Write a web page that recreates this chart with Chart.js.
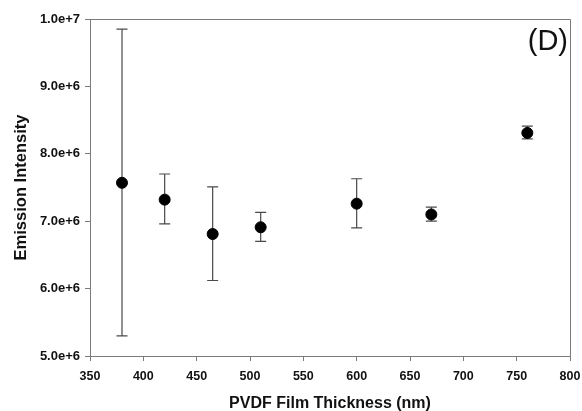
<!DOCTYPE html>
<html>
<head>
<meta charset="utf-8">
<script src="https://cdn.jsdelivr.net/npm/chart.js@4/dist/chart.umd.min.js"></script>
<style>
  html, body { margin: 0; padding: 0; background: #fff; }
  #wrap { width: 582px; height: 411px; }
</style>
</head>
<body>
<div id="wrap"><canvas id="c"></canvas></div>
<script>
// film thickness (nm) and emission intensity, with error bar ends
const thickness = [380, 420, 465, 510, 600, 670, 760];
const intensity = [7.57e6, 7.32e6, 6.81e6, 6.91e6, 7.26e6, 7.10e6, 8.31e6];
const errHigh   = [9.85e6, 7.70e6, 7.51e6, 7.13e6, 7.63e6, 7.21e6, 8.41e6];
const errLow    = [5.30e6, 6.96e6, 6.12e6, 6.70e6, 6.90e6, 7.00e6, 8.22e6];

const axisColor = '#7a7a7a';
const fam = "'Liberation Sans', Arial, sans-serif";

// vertical error bars with caps, drawn through the chart scales
const errorBars = {
    id: 'errorBars',
    beforeDatasetsDraw(chart) {
        const { ctx, scales: { x, y } } = chart;
        ctx.save();
        ctx.strokeStyle = '#4a4a4a';
        ctx.lineWidth = 1.2;
        thickness.forEach((t, i) => {
            const px = x.getPixelForValue(t);
            const top = y.getPixelForValue(errHigh[i]);
            const bot = y.getPixelForValue(errLow[i]);
            ctx.beginPath();
            ctx.moveTo(px, top); ctx.lineTo(px, bot);
            ctx.moveTo(px - 5.5, top); ctx.lineTo(px + 5.5, top);
            ctx.moveTo(px - 5.5, bot); ctx.lineTo(px + 5.5, bot);
            ctx.stroke();
        });
        ctx.restore();
    }
};

// frame on top/right and the panel letter
const frame = {
    id: 'frame',
    afterDraw(chart) {
        const { ctx, chartArea: a } = chart;
        ctx.save();
        ctx.strokeStyle = axisColor;
        ctx.lineWidth = 1;
        ctx.beginPath();
        ctx.moveTo(a.left, a.top + 0.5);
        ctx.lineTo(a.right + 0.5, a.top + 0.5);
        ctx.lineTo(a.right + 0.5, a.bottom);
        ctx.stroke();
        ctx.fillStyle = '#111';
        ctx.font = '29px ' + fam;
        ctx.textAlign = 'right';
        ctx.textBaseline = 'top';
        ctx.fillText('(D)', a.right - 2, a.top + 8);
        ctx.restore();
    }
};

new Chart(document.getElementById('c'), {
    type: 'scatter',
    data: {
        datasets: [{
            data: thickness.map((t, i) => ({ x: t, y: intensity[i] })),
            backgroundColor: '#000',
            borderColor: '#000',
            pointRadius: 5.5,
            pointHoverRadius: 5.5
        }]
    },
    options: {
        responsive: true,
        maintainAspectRatio: false,
        animation: false,
        layout: { padding: { left: 0, top: 19, right: 12, bottom: 0 } },
        plugins: { legend: { display: false }, tooltip: { enabled: false } },
        scales: {
            x: {
                type: 'linear',
                min: 350, max: 800,
                afterFit(s) { s.height = 55; s.paddingLeft = 0; s.paddingRight = 0; },
                ticks: { stepSize: 50, color: '#111', font: { family: fam, size: 12.5, weight: 'bold' }, padding: 8 },
                grid: { drawOnChartArea: false, drawTicks: true, tickLength: 5, tickColor: axisColor },
                border: { color: axisColor, width: 1 },
                title: {
                    display: true, text: 'PVDF Film Thickness (nm)', color: '#111',
                    font: { family: fam, size: 16, weight: 'bold' },
                    padding: { top: 0, bottom: -2 }
                }
            },
            y: {
                min: 5e6, max: 1e7,
                afterFit(s) { s.width = 90; s.paddingTop = 0; s.paddingBottom = 0; },
                ticks: {
                    stepSize: 1e6, color: '#111', font: { family: fam, size: 13, weight: 'bold' }, padding: 5,
                    callback: v => v.toExponential(1)
                },
                grid: { drawOnChartArea: false, drawTicks: true, tickLength: 5, tickColor: axisColor },
                border: { color: axisColor, width: 1 },
                title: {
                    display: true, text: 'Emission Intensity', color: '#111',
                    font: { family: fam, size: 16.5, weight: 'bold' },
                    padding: { top: 12, bottom: 0 }
                }
            }
        }
    },
    plugins: [errorBars, frame]
});
</script>
</body>
</html>
